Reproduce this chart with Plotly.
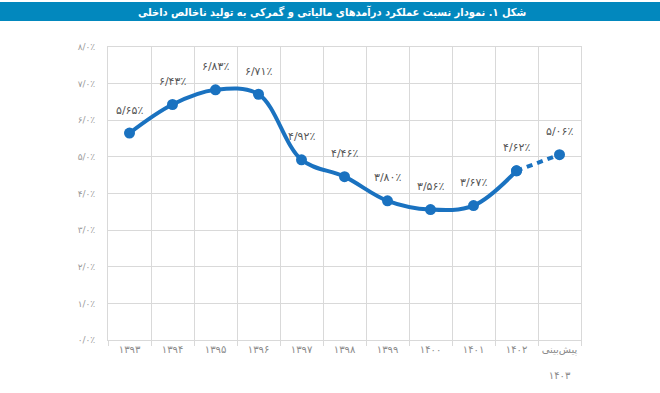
import plotly.graph_objects as go

years = ["۱۳۹۳", "۱۳۹۴", "۱۳۹۵", "۱۳۹۶", "۱۳۹۷", "۱۳۹۸", "۱۳۹۹", "۱۴۰۰", "۱۴۰۱", "۱۴۰۲", "پیش‌بینی<br><br>۱۴۰۳"]
values = [5.65, 6.43, 6.83, 6.71, 4.92, 4.46, 3.80, 3.56, 3.67, 4.62, 5.06]
value_labels = ["۵/۶۵٪", "۶/۴۳٪", "۶/۸۳٪", "۶/۷۱٪", "۴/۹۲٪", "۴/۴۶٪", "۳/۸۰٪", "۳/۵۶٪", "۳/۶۷٪", "۴/۶۲٪", "۵/۰۶٪"]
y_ticks = [0, 1, 2, 3, 4, 5, 6, 7, 8]
y_tick_labels = ["۰/۰٪", "۱/۰٪", "۲/۰٪", "۳/۰٪", "۴/۰٪", "۵/۰٪", "۶/۰٪", "۷/۰٪", "۸/۰٪"]
title_text = "شکل ۱. نمودار نسبت عملکرد درآمدهای مالیاتی و گمرکی به تولید ناخالص داخلی"

FONT = "DejaVu Sans, Noto Sans, sans-serif"
TFONT = "DejaVu Sans Condensed, DejaVu Sans, sans-serif"
BLUE = "#1a72c0"

W, H = 660, 393
L, R, T, B = 108, 79, 47, 53
pw, ph = W - L - R, H - T - B

def px_x(x):
    return (x - L) / pw

def px_y(y):
    return (H - B - y) / ph

fig = go.Figure()
fig.add_trace(go.Scatter(
    x=years[:10], y=values[:10], mode="lines+markers",
    line=dict(color=BLUE, width=4, shape="spline", smoothing=1.0),
    marker=dict(color=BLUE, size=11), hoverinfo="skip", showlegend=False))
fig.add_trace(go.Scatter(
    x=years[9:], y=values[9:], mode="lines+markers",
    line=dict(color=BLUE, width=4, dash="6px,5px"),
    marker=dict(color=BLUE, size=11), hoverinfo="skip", showlegend=False))

for xv, yv, lab in zip(years, values, value_labels):
    fig.add_annotation(x=xv, y=yv, text=lab, showarrow=False, yshift=23,
                       font=dict(family=FONT, size=11, color="#555555"))

# title bar
fig.add_shape(type="rect", xref="paper", yref="paper",
              x0=px_x(0), x1=px_x(W), y0=px_y(21), y1=px_y(2),
              fillcolor="#0288be", line=dict(width=0), layer="above")
fig.add_annotation(xref="paper", yref="paper", x=px_x(332), y=px_y(11.5),
                   xanchor="center", yanchor="middle", showarrow=False,
                   text="<b>" + title_text + "</b>",
                   font=dict(family=TFONT, size=11, color="white"))

fig.update_layout(
    width=W, height=H, margin=dict(l=L, r=R, t=T, b=B, autoexpand=False),
    paper_bgcolor="white", plot_bgcolor="white",
    font=dict(family=FONT),
)
fig.update_xaxes(type="category", tickson="boundaries", range=[-0.5, 10.5],
                 showgrid=True, gridcolor="#d9d9d9", gridwidth=1,
                 showline=True, mirror=True, linecolor="#d9d9d9",
                 ticks="outside", ticklen=5, tickcolor="#d9d9d9",
                 tickangle=0, automargin=False,
                 tickfont=dict(family=FONT, size=10, color="#8a8a8a"),
                 fixedrange=True)
fig.update_yaxes(range=[0, 8], tickvals=y_ticks, ticktext=y_tick_labels,
                 showgrid=True, gridcolor="#d9d9d9", gridwidth=1,
                 showline=True, mirror=True, linecolor="#d9d9d9",
                 zeroline=False, ticklabelstandoff=10, automargin=False,
                 tickfont=dict(family=FONT, size=9, color="#9a9a9a"),
                 fixedrange=True)

fig.write_html("out.html", config={"displayModeBar": False},
               post_script="document.body.style.margin='0';")
